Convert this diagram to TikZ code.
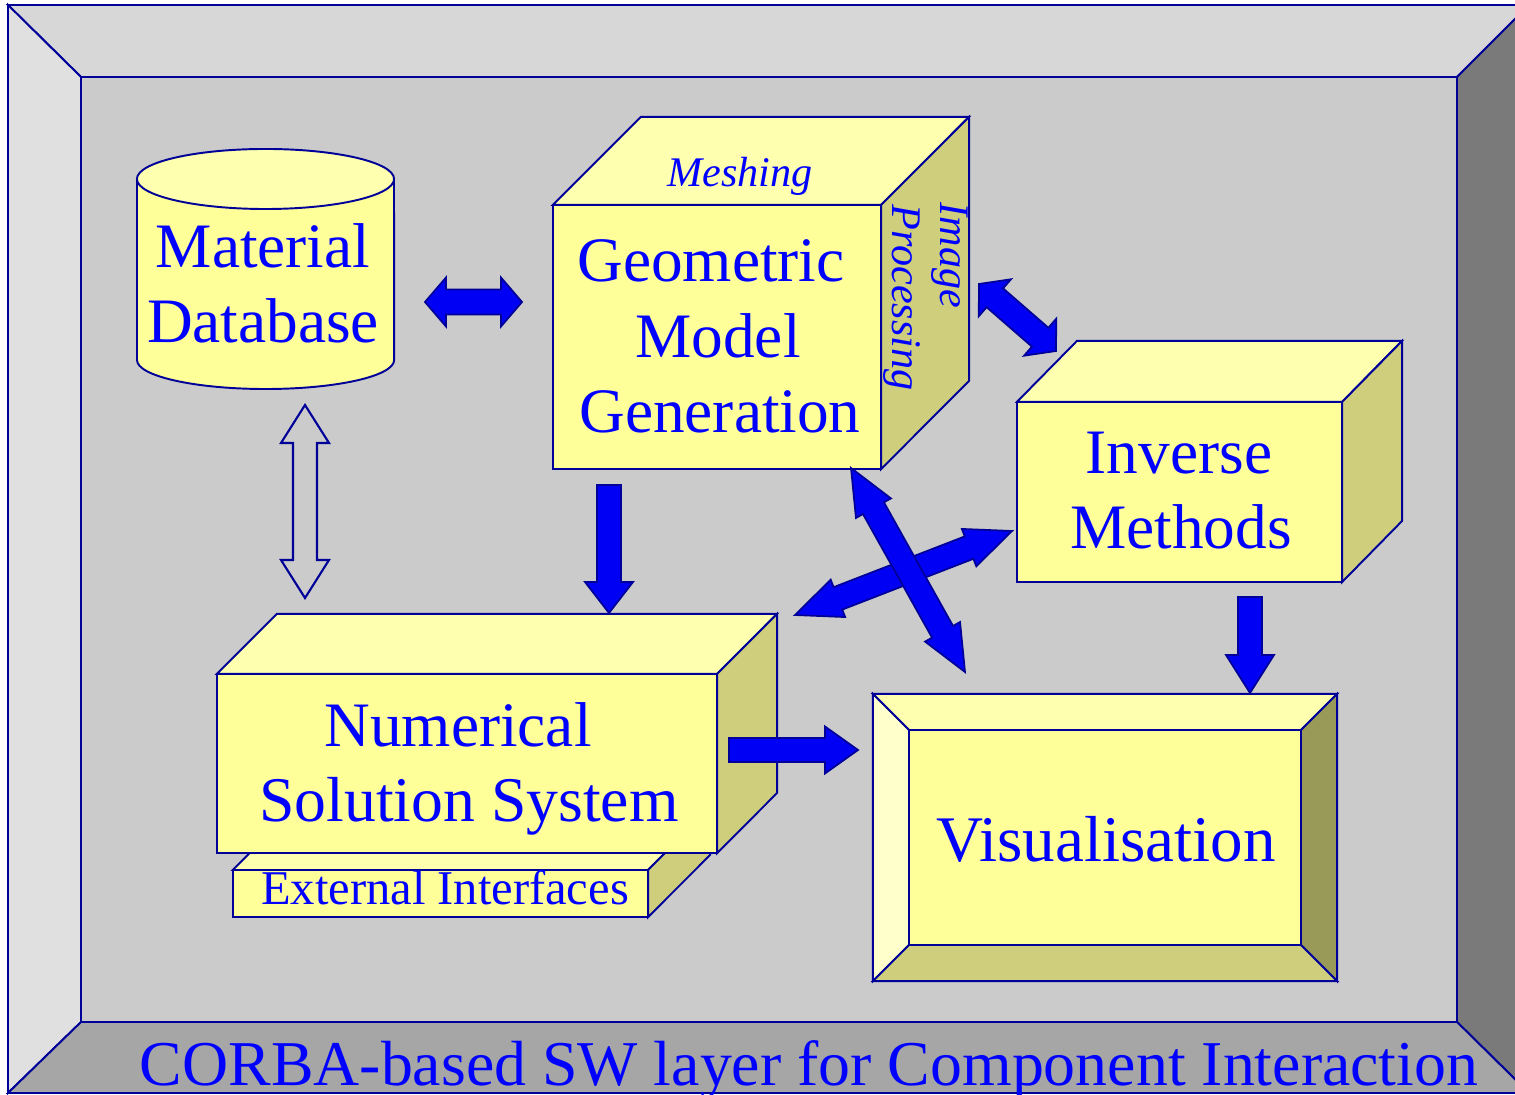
\documentclass[tikz,border=0pt]{standalone}
\usepackage{fontspec}
\setmainfont{Liberation Serif}
\usetikzlibrary{calc}
\definecolor{navy}{RGB}{0,0,153}
\definecolor{txtblue}{RGB}{0,0,255}
\definecolor{arrowblue}{RGB}{0,0,245}
\definecolor{bevtop}{RGB}{215,215,215}
\definecolor{bevleft}{RGB}{224,224,224}
\definecolor{bevright}{RGB}{122,122,122}
\definecolor{bevbot}{RGB}{166,166,166}
\definecolor{innerbg}{RGB}{203,203,203}
\definecolor{yfront}{RGB}{255,255,153}
\definecolor{ytop}{RGB}{255,255,176}
\definecolor{yside}{RGB}{206,206,125}
\definecolor{ylight}{RGB}{255,255,204}
\definecolor{ydark}{RGB}{153,153,88}
\tikzset{
  frameline/.style={draw=navy, line width=0.55pt, line join=miter},
  boxfront/.style={rectangle, draw=navy, line width=0.55pt, fill=yfront, inner sep=0pt, outer sep=0pt},
  lbl/.style={text=txtblue, font=\fontsize{18}{21}\selectfont, inner sep=0pt, anchor=base},
  smalllbl/.style={text=txtblue, font=\fontsize{12}{14}\selectfont\itshape, inner sep=0pt},
  extlbl/.style={text=txtblue, font=\fontsize{13.8}{16}\selectfont, inner sep=0pt, anchor=base},
  fatarrow/.style={fill=arrowblue, draw=navy, line width=0.5pt, line join=miter},
  openarrow/.style={draw=navy, line width=0.6pt, line join=miter}
}
% #1 style, #2 from, #3 to, #4 shaft half width, #5 head half width, #6 head length
\newcommand\fatdouble[6]{%
  \coordinate (tmpa) at ($(#2)!#6!(#3)$);
  \coordinate (tmpb) at ($(#3)!#6!(#2)$);
  \draw[#1] (#2) -- ($(tmpa)!#5!90:(#3)$) -- ($(tmpa)!#4!90:(#3)$)
    -- ($(tmpb)!#4!-90:(#2)$) -- ($(tmpb)!#5!-90:(#2)$) -- (#3)
    -- ($(tmpb)!#5!90:(#2)$) -- ($(tmpb)!#4!90:(#2)$)
    -- ($(tmpa)!#4!-90:(#3)$) -- ($(tmpa)!#5!-90:(#3)$) -- cycle;
}
\newcommand\fatsingle[6]{%
  \coordinate (tmpb) at ($(#3)!#6!(#2)$);
  \draw[#1] ($(#2)!#4!90:(#3)$) -- ($(tmpb)!#4!-90:(#2)$) -- ($(tmpb)!#5!-90:(#2)$)
    -- (#3) -- ($(tmpb)!#5!90:(#2)$) -- ($(tmpb)!#4!90:(#2)$)
    -- ($(#2)!#4!-90:(#3)$) -- cycle;
}
\begin{document}
\begin{tikzpicture}[x=0.01cm, y=-0.01cm]
\useasboundingbox (0,0) rectangle (1515,1095);
\clip (0,0) rectangle (1515,1095);
\fill[white] (0,0) rectangle (1515,1095);
% ---------- bevelled frame ----------
\coordinate (fo1) at (8,5);
\coordinate (fo2) at (1529,5);
\coordinate (fo3) at (1529,1093);
\coordinate (fo4) at (8,1093);
\coordinate (fi1) at (81,77);
\coordinate (fi2) at (1457,77);
\coordinate (fi3) at (1457,1022);
\coordinate (fi4) at (81,1022);
\filldraw[frameline, fill=bevtop] (fo1) -- (fo2) -- (fi2) -- (fi1) -- cycle;
\filldraw[frameline, fill=bevleft] (fo1) -- (fi1) -- (fi4) -- (fo4) -- cycle;
\filldraw[frameline, fill=bevright] (fo2) -- (fo3) -- (fi3) -- (fi2) -- cycle;
\filldraw[frameline, fill=bevbot] (fo4) -- (fi4) -- (fi3) -- (fo3) -- cycle;
\filldraw[frameline, fill=innerbg] (fi1) rectangle (fi3);
\node[lbl, font=\fontsize{18.15}{21}\selectfont] (corba) at (809,1085) {CORBA-based SW layer for Component Interaction};
% ---------- Material Database (cylinder) ----------
\filldraw[frameline, fill=yfront] (137,179) -- (137,360)
  arc[start angle=180, end angle=360, x radius=1.285cm, y radius=0.29cm] -- (394,179) -- cycle;
\filldraw[frameline, fill=ytop] (265.5,179) ellipse[x radius=1.285cm, y radius=0.3cm];
\node[lbl] (md) at (263,268) {Material};
\node[lbl] (mdb) at (263,343) {Database};
% ---------- Geometric Model Generation ----------
\node[boxfront, minimum width=3.28cm, minimum height=2.64cm] (gmg) at (717,337) {};
\filldraw[frameline, fill=ytop] (gmg.north west) -- ++(88,-88) -- ++(328,0) -- (gmg.north east) -- cycle;
\filldraw[frameline, fill=yside] (gmg.north east) -- ++(88,-88) -- ++(0,264) -- (gmg.south east) -- cycle;
\node[lbl] (gmga) at (711,282) {Geometric};
\node[lbl] (gmgb) at (718,358) {Model};
\node[lbl] (gmgc) at (720,433) {Generation};
\node[smalllbl, anchor=base] (mesh) at (740,187) {Meshing};
\node[smalllbl, anchor=base west, rotate=-90] (imgp) at (940,202) {Image};
\node[smalllbl, anchor=base west, rotate=-90] (imgq) at (892,204) {Processing};
% ---------- Inverse Methods ----------
\node[boxfront, minimum width=3.25cm, minimum height=1.80cm] (inv) at (1179.5,492) {};
\filldraw[frameline, fill=ytop] (inv.north west) -- ++(60,-61) -- ++(325,0) -- (inv.north east) -- cycle;
\filldraw[frameline, fill=yside] (inv.north east) -- ++(60,-61) -- ++(0,180) -- (inv.south east) -- cycle;
\node[lbl] (inva) at (1179,474) {Inverse};
\node[lbl] (invb) at (1181,549) {Methods};
% ---------- External Interfaces ----------
\node[boxfront, minimum width=4.15cm, minimum height=0.47cm] (ext) at (440.5,893.5) {};
\filldraw[frameline, fill=ytop] (ext.north west) -- ++(62,-62) -- ++(415,0) -- (ext.north east) -- cycle;
\filldraw[frameline, fill=yside] (ext.north east) -- ++(62,-62) -- ++(0,47) -- (ext.south east) -- cycle;
\node[extlbl] (exta) at (445,905) {External Interfaces};
% ---------- Numerical Solution System ----------
\node[boxfront, minimum width=5.00cm, minimum height=1.79cm] (nss) at (467,763.5) {};
\filldraw[frameline, fill=ytop] (nss.north west) -- ++(60,-60) -- ++(500,0) -- (nss.north east) -- cycle;
\filldraw[frameline, fill=yside] (nss.north east) -- ++(60,-60) -- ++(0,179) -- (nss.south east) -- cycle;
\node[lbl] (nssa) at (458,747) {Numerical};
\node[lbl, font=\fontsize{18.1}{21}\selectfont] (nssb) at (469,822) {Solution System};
% ---------- Visualisation ----------
\node[boxfront, minimum width=4.64cm, minimum height=2.87cm] (vis) at (1105,837.5) {};
\coordinate (vi1) at (909,730);
\coordinate (vi2) at (1301,730);
\coordinate (vi3) at (1301,945);
\coordinate (vi4) at (909,945);
\filldraw[frameline, fill=ytop] (vis.north west) -- (vis.north east) -- (vi2) -- (vi1) -- cycle;
\filldraw[frameline, fill=ylight] (vis.north west) -- (vi1) -- (vi4) -- (vis.south west) -- cycle;
\filldraw[frameline, fill=ydark] (vis.north east) -- (vis.south east) -- (vi3) -- (vi2) -- cycle;
\filldraw[frameline, fill=yside] (vis.south west) -- (vi4) -- (vi3) -- (vis.south east) -- cycle;
\filldraw[frameline, fill=yfront] (vi1) rectangle (vi3);
\node[lbl, font=\fontsize{18.5}{21}\selectfont] (visa) at (1106,862) {Visualisation};
% ---------- arrows ----------
\coordinate (h1) at (425,302);  \coordinate (h2) at (522,302);
\coordinate (d1) at (609,485);  \coordinate (d2) at (609,613);
\coordinate (r1) at (729,750);  \coordinate (r2) at (858,750);
\coordinate (v1) at (1250,597); \coordinate (v2) at (1250,693);
\coordinate (g1) at (979,284);  \coordinate (g2) at (1056,351);
\coordinate (x1) at (851,468);  \coordinate (x2) at (965,672);
\coordinate (y1) at (795,615);  \coordinate (y2) at (1012,531);
\coordinate (u1) at (305,405);  \coordinate (u2) at (305,598);
\fatdouble{fatarrow}{h1}{h2}{0.125cm}{0.245cm}{0.21cm}
\fatsingle{fatarrow}{d1}{d2}{0.12cm}{0.24cm}{0.31cm}
\fatsingle{fatarrow}{r1}{r2}{0.12cm}{0.235cm}{0.33cm}
\fatsingle{fatarrow}{v1}{v2}{0.12cm}{0.24cm}{0.38cm}
\fatdouble{fatarrow}{g1}{g2}{0.125cm}{0.245cm}{0.21cm}
\fatdouble{fatarrow}{y1}{y2}{0.12cm}{0.20cm}{0.46cm}
\fatdouble{fatarrow}{x1}{x2}{0.12cm}{0.20cm}{0.46cm}
\fatdouble{openarrow}{u1}{u2}{0.12cm}{0.24cm}{0.38cm}
\end{tikzpicture}
\end{document}
